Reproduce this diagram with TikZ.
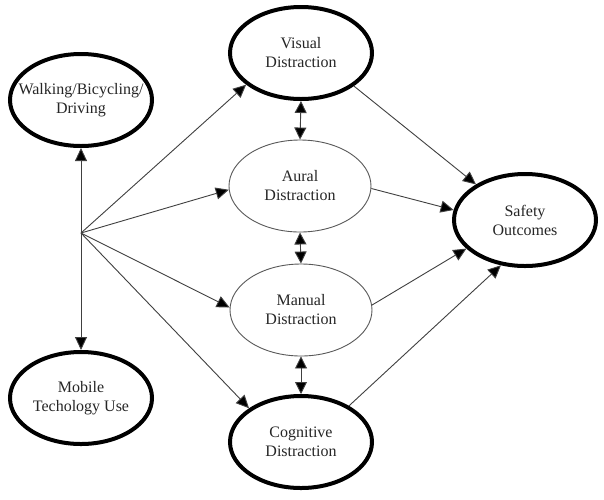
\documentclass[tikz,border=0pt]{standalone}
\usepackage{fontspec}
\setmainfont{Liberation Serif}
\usetikzlibrary{arrows.meta,shapes.geometric}
\tikzset{
  base/.style={ellipse, inner sep=0pt, minimum width=142pt, minimum height=92pt},
  bold/.style={base, draw=black, line width=4pt},
  thin/.style={base, draw=black!65, line width=0.9pt},
  lbl/.style={align=center, font=\fontsize{16}{19}\selectfont, text=black!85, inner sep=0pt},
  conn/.style={draw=black!75, line width=0.9pt, -{Triangle[length=13pt,width=12pt,fill=black]}},
  dconn/.style={draw=black!75, line width=0.9pt, {Triangle[length=12pt,width=12pt,fill=black]}-{Triangle[length=12pt,width=12pt,fill=black]}}
}
\begin{document}
\begin{tikzpicture}[x=1pt,y=-1pt]
\useasboundingbox[fill=white] (0,0) rectangle (604,499);
\node[bold] (walk) at (81,100) {};
\node[bold] (vis) at (301,53) {};
\node[thin] (aur) at (300,186) {};
\node[bold] (saf) at (525,220) {};
\node[thin] (man) at (301,310) {};
\node[bold] (mob) at (81,398) {};
\node[bold] (cog) at (301,442) {};
\node[lbl] (walkt) at (walk.center) {Walking/Bicycling/\\Driving};
\node[lbl] (vist) at (vis.center) {Visual\\Distraction};
\node[lbl] (aurt) at (aur.center) {Aural\\Distraction};
\node[lbl] (saft) at (saf.center) {Safety\\Outcomes};
\node[lbl] (mant) at (man.center) {Manual\\Distraction};
\node[lbl] (mobt) at (mob.center) {Mobile\\Techology Use};
\node[lbl] (cogt) at (cog.center) {Cognitive\\Distraction};
\coordinate (j) at (81,233);

\draw[conn] (j) -- (walk.south);
\draw[conn] (j) -- (mob.north);
\draw[conn] (j) -- (vis.210);
\draw[conn] (j) -- (aur.183);
\draw[conn] (j) -- (man.178);
\draw[conn] (j) -- (cog.147);

\draw[conn] (vis.328) -- (saf.144);
\draw[conn] (aur.358) -- (saf.172);
\draw[conn] (man.4) -- (saf.206);
\draw[conn] (cog.37) -- (saf.242);

\draw[dconn] (vis.south) -- (aur.north);
\draw[dconn] (aur.south) -- (man.north);
\draw[dconn] (man.south) -- (cog.north);
\end{tikzpicture}
\end{document}
